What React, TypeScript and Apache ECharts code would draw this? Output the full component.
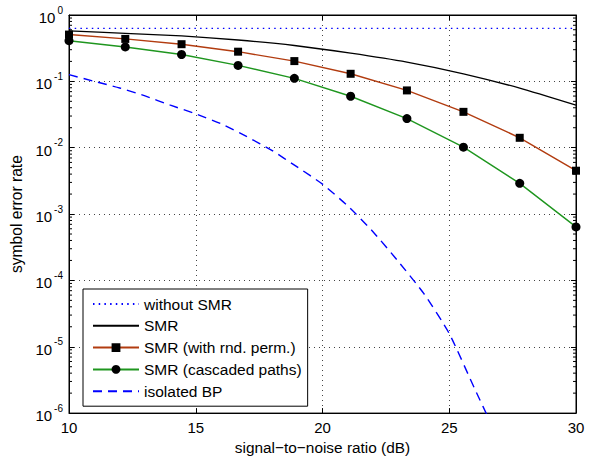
import React, { useEffect, useRef } from "react";
import * as echarts from "echarts";

// SNR values (dB) at which the simulated curves were sampled
const snrMarkers = [10, 12.22, 14.44, 16.67, 18.89, 21.11, 23.33, 25.56, 27.78, 30];
// symbol error rates
const serWithoutSMR = [0.63, 0.63, 0.63, 0.63, 0.63, 0.63, 0.63, 0.63, 0.63, 0.63];
const serSMR = [0.575, 0.53, 0.484, 0.42, 0.347, 0.266, 0.195, 0.13, 0.079, 0.0437];
const serSMRPerm = [0.507, 0.436, 0.363, 0.28, 0.202, 0.13, 0.073, 0.0347, 0.0141, 0.0045];
const serSMRCascaded = [0.41, 0.33, 0.254, 0.174, 0.111, 0.0596, 0.0275, 0.0102, 0.0029, 0.00064];
// isolated BP curve
const snrBP = [10, 11, 12, 13, 14, 15, 16, 17, 18, 19, 20, 21, 22, 23, 24, 25, 26, 26.7];
const serBP = [0.126, 0.1, 0.0794, 0.0603, 0.0437, 0.0324, 0.0229, 0.0148, 0.00912, 0.00513,
  0.00282, 0.00132, 0.000537, 0.000191, 0.0000631, 0.0000158, 0.00000234, 0.00000063];

const seriesNames = [
  "without SMR",
  "SMR",
  "SMR (with rnd. perm.)",
  "SMR (cascaded paths)",
  "isolated BP",
];

const xTicks = [10, 15, 20, 25, 30];
const yDecades = [-6, -5, -4, -3, -2, -1, 0];
const minorMultipliers = [2, 3, 4, 5, 6, 7, 8, 9];

const FONT = "'Liberation Sans', Arial, Helvetica, sans-serif";

function zip(xs: number[], ys: number[]) {
  return xs.map((x, i) => [x, ys[i]]);
}

export default function App() {
  const ref = useRef<HTMLDivElement>(null);
  useEffect(() => {
    if (!ref.current) return;
    const chart = echarts.init(ref.current, null, { renderer: "svg" });

    const minorTicks: number[][] = [];
    yDecades.slice(0, -1).forEach((d) => {
      minorMultipliers.forEach((m) => minorTicks.push([10, m * Math.pow(10, d)]));
    });

    const yLabelFmt = (v: number) => {
      const e = Math.round(Math.log10(v));
      return `{b|10}{e|${e < 0 ? "-" + -e : e}}`;
    };

    const xBase = {
      type: "value" as const,
      min: xTicks[0],
      max: xTicks[xTicks.length - 1],
      interval: 5,
    };
    const yBase = {
      type: "log" as const,
      logBase: 10,
      min: Math.pow(10, yDecades[0]),
      max: Math.pow(10, yDecades[yDecades.length - 1]),
      interval: 1,
    };

    chart.setOption({
      animation: false,
      textStyle: { fontFamily: FONT, color: "#000" },
      grid: {
        left: 69,
        right: 16,
        top: 15,
        bottom: 45,
        show: true,
        borderColor: "#000",
        borderWidth: 1,
        backgroundColor: "#fff",
      },
      legend: {
        data: seriesNames.map((n, i) => ({
          name: n,
          itemStyle: i === 0 || i === 1 || i === 4 ? { opacity: 0 } : undefined,
        })),
        orient: "vertical",
        left: 83,
        top: 289,
        itemWidth: 46,
        itemHeight: 11,
        itemGap: 5.8,
        padding: [7, 6, 7, 9],
        borderColor: "#000",
        borderWidth: 1,
        backgroundColor: "#fff",
        textStyle: { fontSize: 15.5, color: "#000", fontFamily: FONT },
        selectedMode: false,
      },
      xAxis: [
        {
          ...xBase,
          position: "bottom",
          name: "signal−to−noise ratio (dB)",
          nameLocation: "middle",
          nameGap: 25,
          nameTextStyle: { fontSize: 15.4, color: "#000", fontFamily: FONT },
          axisLine: { show: true, lineStyle: { color: "#000", width: 1 } },
          axisTick: { show: true, inside: true, length: 5, lineStyle: { color: "#000" } },
          axisLabel: { fontSize: 15, color: "#000", margin: 7, fontFamily: FONT },
          splitLine: {
            show: true,
            lineStyle: { color: "#444", type: [1, 4], width: 1 },
          },
        },
        {
          ...xBase,
          position: "top",
          axisLine: { show: true, lineStyle: { color: "#000", width: 1 } },
          axisTick: { show: true, inside: true, length: 5, lineStyle: { color: "#000" } },
          axisLabel: { show: false },
          splitLine: { show: false },
        },
      ],
      yAxis: [
        {
          ...yBase,
          position: "left",
          name: "symbol error rate",
          nameLocation: "middle",
          nameGap: 43,
          nameTextStyle: { fontSize: 15.6, color: "#000", fontFamily: FONT },
          axisLine: { show: true, lineStyle: { color: "#000", width: 1 } },
          axisTick: { show: true, inside: true, length: 5, lineStyle: { color: "#000" } },
          axisLabel: {
            margin: 6,
            formatter: yLabelFmt,
            rich: {
              b: { fontSize: 15, color: "#000", fontFamily: FONT, verticalAlign: "bottom", padding: [5, 0, 0, 0] },
              e: { fontSize: 10, color: "#000", fontFamily: FONT, verticalAlign: "top", padding: [0, 0, 0, 2] },
            },
          },
          splitLine: {
            show: true,
            lineStyle: { color: "#444", type: [1, 4], width: 1 },
          },
        },
        {
          ...yBase,
          position: "right",
          axisLine: { show: true, lineStyle: { color: "#000", width: 1 } },
          axisTick: { show: true, inside: true, length: 5, lineStyle: { color: "#000" } },
          axisLabel: { show: false },
          splitLine: { show: false },
        },
      ],
      series: [
        {
          type: "custom",
          name: "minorTicks",
          silent: true,
          data: minorTicks,
          renderItem: (params: any, api: any) => {
            const v = api.value(1);
            const pL = api.coord([xTicks[0], v]);
            const pR = api.coord([xTicks[xTicks.length - 1], v]);
            return {
              type: "group",
              children: [
                { type: "line", shape: { x1: pL[0], y1: pL[1], x2: pL[0] + 3, y2: pL[1] }, style: { stroke: "#000", lineWidth: 1 } },
                { type: "line", shape: { x1: pR[0], y1: pR[1], x2: pR[0] - 3, y2: pR[1] }, style: { stroke: "#000", lineWidth: 1 } },
              ],
            };
          },
        },
        {
          type: "line",
          name: seriesNames[0],
          data: zip(snrMarkers, serWithoutSMR),
          symbol: "none",
          lineStyle: { color: "#0000ff", width: 1.3, type: [1.5, 4.2] },
          itemStyle: { color: "#0000ff" },
        },
        {
          type: "line",
          name: seriesNames[1],
          data: zip(snrMarkers, serSMR),
          symbol: "none",
          smooth: 0.2,
          lineStyle: { color: "#000", width: 1.3 },
          itemStyle: { color: "#000" },
        },
        {
          type: "line",
          name: seriesNames[2],
          data: zip(snrMarkers, serSMRPerm),
          symbol: "rect",
          symbolSize: 8,
          lineStyle: { color: "#b23c10", width: 1.4 },
          itemStyle: { color: "#000" },
        },
        {
          type: "line",
          name: seriesNames[3],
          data: zip(snrMarkers, serSMRCascaded),
          symbol: "circle",
          symbolSize: 9,
          lineStyle: { color: "#1f961f", width: 1.4 },
          itemStyle: { color: "#000" },
        },
        {
          type: "line",
          name: seriesNames[4],
          data: zip(snrBP, serBP),
          symbol: "none",
          smooth: 0.2,
          lineStyle: { color: "#0000ff", width: 1.4, type: [9, 6] },
          itemStyle: { color: "#0000ff" },
        },
      ],
    });
    return () => chart.dispose();
  }, []);
  return (
    <div
      ref={ref}
      style={{ position: "fixed", left: 0, top: 0, width: 592, height: 460, background: "#fff" }}
    />
  );
}
